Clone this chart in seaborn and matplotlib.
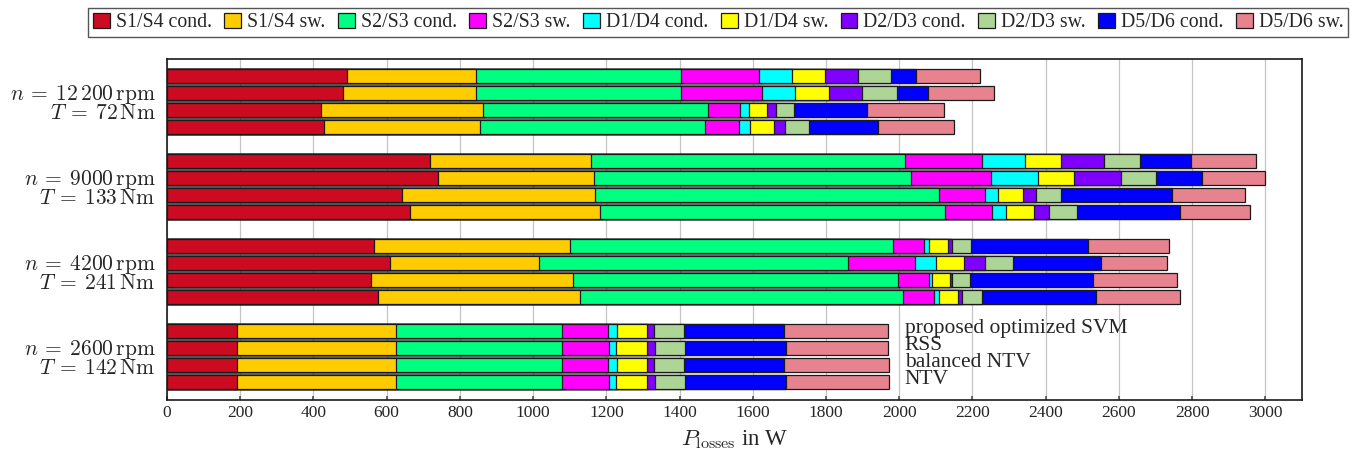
import matplotlib
matplotlib.use("Agg")
import matplotlib.pyplot as plt
import matplotlib.patches as mpatches
import numpy as np
import pandas as pd
import seaborn as sns

# operating points (one group of four bars each)
group_labels = [
    r"$n\:=\:12\,200\,\mathrm{rpm}$" + "\n" + r"$T\:=\:72\,\mathrm{Nm}$",
    r"$n\:=\:9000\,\mathrm{rpm}$" + "\n" + r"$T\:=\:133\,\mathrm{Nm}$",
    r"$n\:=\:4200\,\mathrm{rpm}$" + "\n" + r"$T\:=\:241\,\mathrm{Nm}$",
    r"$n\:=\:2600\,\mathrm{rpm}$" + "\n" + r"$T\:=\:142\,\mathrm{Nm}$",
]
methods = ["proposed optimized SVM", "RSS", "balanced NTV", "NTV"]

components = ["S1/S4 cond.", "S1/S4 sw.", "S2/S3 cond.", "S2/S3 sw.", "D1/D4 cond.",
              "D1/D4 sw.", "D2/D3 cond.", "D2/D3 sw.", "D5/D6 cond.", "D5/D6 sw."]
colors = ["#cc0a21", "#ffcc00", "#00ff80", "#ff00ff", "#00ffff",
          "#ffff00", "#8000ff", "#acd596", "#0000ff", "#e6838f"]

# losses in W, order: group (12200, 9000, 4200, 2600) x method (SVM, RSS, bal. NTV, NTV)
s14_cond = [493, 480, 422, 430, 718, 741, 642, 665, 566, 608, 558, 576, 190, 190, 190, 190]
s14_sw = [352, 365, 442, 426, 439, 425, 528, 519, 535, 408, 550, 551, 436, 436, 436, 436]
s23_cond = [560, 560, 614, 614, 859, 867, 938, 942, 881, 845, 888, 883, 454, 454, 454, 454]
s23_sw = [212, 219, 86, 93, 210, 219, 126, 128, 87, 182, 86, 86, 125, 127, 125, 127]
d14_cond = [91, 90, 26, 30, 118, 128, 37, 39, 12, 58, 7, 12, 23, 20, 23, 20]
d14_sw = [89, 94, 48, 65, 97, 97, 67, 75, 51, 77, 49, 53, 82, 85, 82, 85]
d23_cond = [91, 91, 25, 30, 119, 129, 36, 41, 13, 57, 7, 11, 20, 20, 20, 20]
d23_sw = [89, 96, 50, 65, 97, 96, 67, 76, 51, 76, 49, 55, 82, 83, 82, 83]
d56_cond = [70, 83, 200, 190, 139, 124, 303, 282, 320, 240, 335, 311, 274, 276, 274, 276]
d56_sw = [173, 182, 209, 207, 178, 172, 201, 190, 222, 180, 230, 228, 284, 279, 286, 281]

stack = np.array([s14_cond, s14_sw, s23_cond, s23_sw, d14_cond,
                  d14_sw, d23_cond, d23_sw, d56_cond, d56_sw], dtype=float)
cum = np.cumsum(stack, axis=0)

# bar slots: 4 bars per group, one empty slot between groups
pos = np.array([g * 5 + b for g in range(4) for b in range(4)], dtype=float)

sns.set_theme(style="white")
plt.rcParams["font.family"] = ["Liberation Serif", "DejaVu Serif"]
plt.rcParams["mathtext.fontset"] = "cm"

fig = plt.figure(figsize=(13.51, 4.61), dpi=100)
ax = fig.add_axes([0.1236, 0.1323, 0.8401, 0.7397])

# stacked bars: draw cumulative totals, longest first
for k in reversed(range(len(components))):
    df = pd.DataFrame({"pos": pos, "val": cum[k]})
    sns.barplot(data=df, x="val", y="pos", orient="h", native_scale=True,
                color=colors[k], saturation=1, width=0.82, errorbar=None,
                edgecolor="#1a1a1a", linewidth=0.9, ax=ax)

ax.set_xlim(0, 3100)
ax.set_ylim(19.05, -1.0)
ax.set_xticks(np.arange(0, 3001, 200))
ax.set_yticks([1.5, 6.5, 11.5, 16.5])
ax.set_yticklabels(group_labels, fontsize=15.5, linespacing=0.9)
ax.tick_params(axis="y", length=0, pad=8)
ax.tick_params(axis="x", direction="in", length=3, labelsize=12.5, bottom=True, color="#555555")
ax.set_ylabel("")
ax.set_xlabel(r"$P_\mathrm{losses}$ in W", fontsize=16.5, labelpad=5)
ax.grid(axis="x", color="#c4c4c4", linewidth=0.9)
ax.grid(axis="y", visible=False)
ax.set_axisbelow(True)
for sp in ax.spines.values():
    sp.set_color("#1a1a1a")
    sp.set_linewidth(1.2)

for b, m in enumerate(methods):
    ax.text(2015, 15 + b - 0.15, m, ha="left", va="center", fontsize=15.5)

handles = [mpatches.Patch(facecolor=c, edgecolor="#1a1a1a", linewidth=0.9, label=n)
           for n, c in zip(components, colors)]
fig.legend(handles=handles, loc="center", bbox_to_anchor=(0.5316, 0.951), ncol=10,
           frameon=True, fancybox=False, edgecolor="#555555", framealpha=1,
           fontsize=14.3, handlelength=0.85, handleheight=0.75, handletextpad=0.3,
           columnspacing=0.63, borderpad=0.25, borderaxespad=0)

fig.savefig("out.png", dpi=100)
